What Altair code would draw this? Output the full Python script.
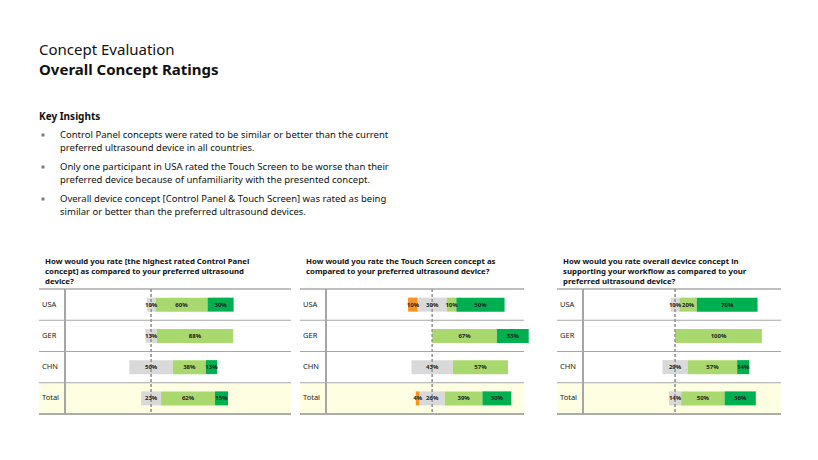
import altair as alt
import pandas as pd

FONT = "Noto Sans"

countries = ["USA", "GER", "CHN", "Total"]
questions = [
    ["How would you rate [the highest rated Control Panel",
     "concept] as compared to your preferred ultrasound", "device?"],
    ["How would you rate the Touch Screen concept as",
     "compared to your preferred ultrasound device?"],
    ["How would you rate overall device concept in",
     "supporting your workflow as compared to your", "preferred ultrasound device?"],
]
# worse / similar / better / much better, per country
worse = [[0, 0, 0, 0], [10, 0, 0, 4], [0, 0, 0, 0]]
similar = [[10, 13, 50, 23], [30, 0, 43, 26], [10, 0, 29, 14]]
better = [[60, 88, 38, 62], [10, 67, 57, 39], [20, 100, 57, 50]]
much_better = [[30, 0, 13, 15], [50, 33, 0, 30], [70, 0, 14, 36]]

cat_names = ["worse", "similar", "better", "much better"]
cat_colors = ["#F7941D", "#D9D9D9", "#A9D86E", "#00B050"]

insights = [
    "Control Panel concepts were rated to be similar or better than the current",
    "preferred ultrasound device in all countries.",
    "Only one participant in USA rated the Touch Screen to be worse than their",
    "preferred device because of unfamiliarity with the presented concept.",
    "Overall device concept [Control Panel & Touch Screen] was rated as being",
    "similar or better than the preferred ultrasound devices.",
]

# panel geometry: (panel width, line width, x domain)
panels = [(252, 252, [-129, 161]), (249, 224, [-137, 121]), (224, 224, [-136, 122])]
H = 125


def segments(i):
    rows = []
    for j, c in enumerate(countries):
        w, s, b, m = worse[i][j], similar[i][j], better[i][j], much_better[i][j]
        left = -s / 2
        parts = [(w, left - w), (s, left), (b, s / 2), (m, s / 2 + b)]
        for k, (v, start) in enumerate(parts):
            if v > 0:
                rows.append({"country": c, "cat": cat_names[k], "start": start,
                             "end": start + v, "label": f"{v}%"})
    return pd.DataFrame(rows)


def panel(i):
    pw, lw, dom = panels[i]
    df = segments(i)
    base_df = pd.DataFrame({"country": countries})
    yscale = alt.Scale(domain=countries, paddingInner=0, paddingOuter=0)
    y = alt.Y("country:N", sort=countries, axis=None, scale=yscale)
    xs = alt.Scale(domain=dom)

    bg = alt.Chart(base_df).transform_filter("datum.country == 'Total'").mark_rect(
        color="#FEFEE3").encode(y=y, x=alt.value(0), x2=alt.value(lw))
    rules = alt.Chart(base_df).transform_filter("datum.country != 'USA'").mark_rule(
        color="#A6A6A6", strokeWidth=1).encode(
        y=alt.Y("country:N", sort=countries, bandPosition=0, axis=None, scale=yscale),
        x=alt.value(0), x2=alt.value(lw))
    top = alt.Chart(base_df).mark_rule(color="#BFBFBF", strokeWidth=2).encode(
        y=alt.value(0), x=alt.value(0), x2=alt.value(lw))
    bottom = alt.Chart(base_df).mark_rule(color="#A6A6A6", strokeWidth=1).encode(
        y=alt.value(H), x=alt.value(0), x2=alt.value(lw))
    vline = alt.Chart(base_df).mark_rule(color="#A6A6A6", strokeWidth=1.5).encode(
        x=alt.value(26), y=alt.value(0), y2=alt.value(H))
    bars = alt.Chart(df).mark_bar(size=14).encode(
        y=y,
        x=alt.X("start:Q", scale=xs, axis=None),
        x2="end:Q",
        color=alt.Color("cat:N", scale=alt.Scale(domain=cat_names, range=cat_colors),
                        legend=None),
    )
    zero = alt.Chart(base_df).mark_rule(color="#999999", strokeDash=[3, 2],
                                        strokeWidth=0.8).encode(
        x=alt.datum(0, scale=xs), y=alt.value(0), y2=alt.value(H))
    labels = alt.Chart(df).transform_calculate(mid="(datum.start + datum.end) / 2").mark_text(
        font=FONT, fontSize=6, fontWeight="bold", color="#222222").encode(
        y=y, x=alt.X("mid:Q", scale=xs), text="label:N")
    rowlab = alt.Chart(base_df).mark_text(font=FONT, fontSize=7.5, align="left",
                                          color="#222222").encode(
        y=y, x=alt.value(3), text="country:N")
    q = alt.Chart(pd.DataFrame({"t": [questions[i]]})).mark_text(
        font=FONT, fontSize=7.8, fontWeight="bold", align="left", baseline="top",
        lineHeight=10, color="#111111").encode(
        x=alt.value(6), y=alt.value(-31), text="t")
    return alt.layer(bg, rules, top, bottom, vline, bars, zero, labels, rowlab, q).properties(
        width=pw, height=H)


hdr_df = pd.DataFrame({
    "t": ["Concept Evaluation", "Overall Concept Ratings", "Key Insights"],
    "y": [47, 67, 112], "size": [15, 15, 10], "w": ["normal", "bold", "bold"],
})
header = alt.layer(
    *[alt.Chart(pd.DataFrame({"t": [r.t]})).mark_text(
        font=FONT, fontSize=r.size, fontWeight=r.w, align="left", baseline="alphabetic",
        color="#111111").encode(x=alt.value(0), y=alt.value(r.y), text="t")
      for r in hdr_df.itertuples()]
)
ins_y = [127, 140, 159, 172, 191, 204]
ins_df = pd.DataFrame({"t": insights, "y": ins_y, "b": [1, 0, 1, 0, 1, 0]})
ins_text = alt.Chart(ins_df).mark_text(font=FONT, fontSize=9.5, align="left",
                                       color="#111111").encode(
    x=alt.value(21), y=alt.Y("y:Q", scale=None), text="t:N")
ins_bul = alt.Chart(ins_df).transform_filter("datum.b == 1").mark_square(
    size=9, color="#7F7F7F", opacity=1).encode(
    x=alt.value(4), y=alt.Y("y:Q", scale=None))
top_chart = alt.layer(header, ins_text, ins_bul).properties(width=750, height=250)

chart = alt.vconcat(
    top_chart,
    alt.hconcat(panel(0), panel(1), panel(2), spacing=7),
    spacing=0,
).properties(
    padding={"left": 30, "top": 0, "right": 0, "bottom": 0}, background="white"
).configure_view(strokeWidth=0, stroke=None)

chart.save("out.html", embed_options={"renderer": "svg", "actions": False})
